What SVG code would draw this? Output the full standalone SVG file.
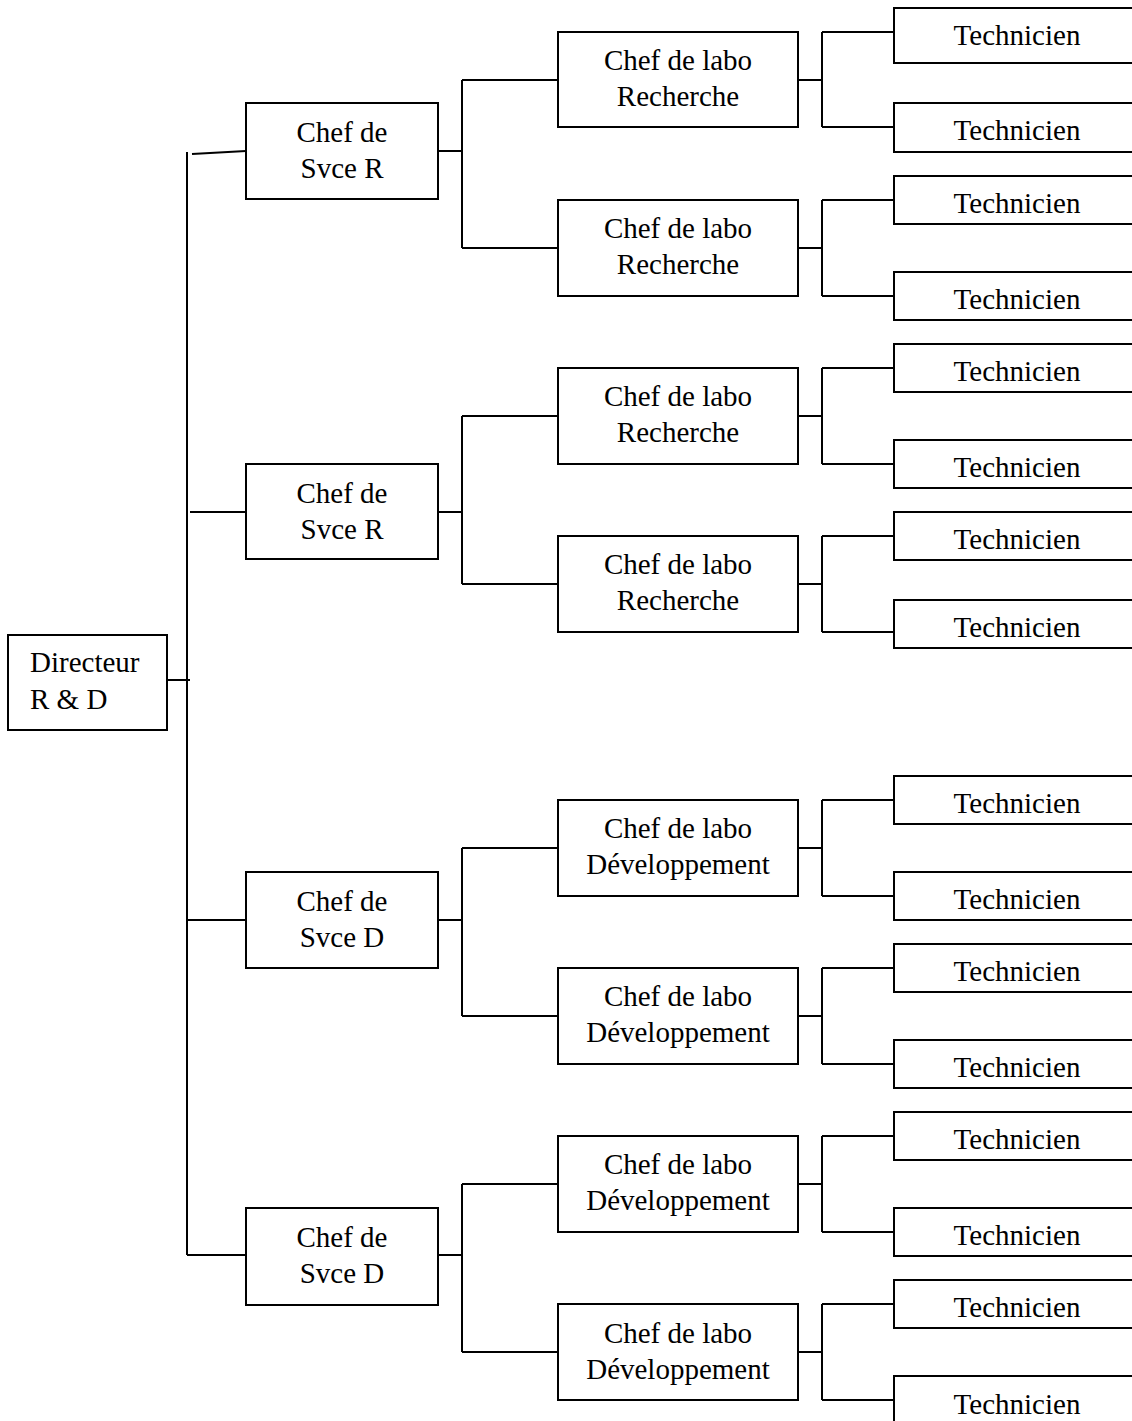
<svg xmlns="http://www.w3.org/2000/svg" width="1132" height="1421" viewBox="0 0 1132 1421">
<style>
.box{fill:#fff;stroke:#000;stroke-width:2}
.open{fill:none;stroke:#000;stroke-width:2}
.ln{fill:none;stroke:#000;stroke-width:2}
text{font-family:"Liberation Serif","Times New Roman",serif;font-size:29px;fill:#000}
.c{text-anchor:middle}
</style>
<rect width="1132" height="1421" fill="#fff"/>
<g id="connectors">
<path class="ln" d="M187,152 V1255"/>
<path class="ln" d="M167,680 H190"/>
<path class="ln" d="M192,154 L246,151"/>
<path class="ln" d="M190,512 H246"/>
<path class="ln" d="M187,920 H246"/>
<path class="ln" d="M187,1255 H246"/>
<path class="ln" d="M438,151 H462 M462,80 V248 M462,80 H558 M462,248 H558"/>
<path class="ln" d="M438,512 H462 M462,416 V584 M462,416 H558 M462,584 H558"/>
<path class="ln" d="M438,920 H462 M462,848 V1016 M462,848 H558 M462,1016 H558"/>
<path class="ln" d="M438,1255 H462 M462,1184 V1352 M462,1184 H558 M462,1352 H558"/>
<path class="ln" d="M798,80 H822 M822,32 V127 M822,32 H894 M822,127 H894"/>
<path class="ln" d="M798,248 H822 M822,200 V296 M822,200 H894 M822,296 H894"/>
<path class="ln" d="M798,416 H822 M822,368 V464 M822,368 H894 M822,464 H894"/>
<path class="ln" d="M798,584 H822 M822,536 V632 M822,536 H894 M822,632 H894"/>
<path class="ln" d="M798,848 H822 M822,800 V896 M822,800 H894 M822,896 H894"/>
<path class="ln" d="M798,1016 H822 M822,968 V1064 M822,968 H894 M822,1064 H894"/>
<path class="ln" d="M798,1184 H822 M822,1136 V1232 M822,1136 H894 M822,1232 H894"/>
<path class="ln" d="M798,1352 H822 M822,1304 V1400 M822,1304 H894 M822,1400 H894"/>
</g>
<g id="directeur"><rect class="box" x="8" y="635" width="159" height="95"/><text x="30" y="672">Directeur</text><text x="30" y="709">R &amp; D</text></g>
<g id="svce-r-1"><rect class="box" x="246" y="103" width="192" height="96"/><text class="c" x="342" y="142">Chef de</text><text class="c" x="342" y="178">Svce R</text></g>
<g id="svce-r-2"><rect class="box" x="246" y="464" width="192" height="95"/><text class="c" x="342" y="503">Chef de</text><text class="c" x="342" y="539">Svce R</text></g>
<g id="svce-d-1"><rect class="box" x="246" y="872" width="192" height="96"/><text class="c" x="342" y="911">Chef de</text><text class="c" x="342" y="947">Svce D</text></g>
<g id="svce-d-2"><rect class="box" x="246" y="1208" width="192" height="97"/><text class="c" x="342" y="1247">Chef de</text><text class="c" x="342" y="1283">Svce D</text></g>
<g id="labo-r-1"><rect class="box" x="558" y="32" width="240" height="95"/><text class="c" x="678" y="70">Chef de labo</text><text class="c" x="678" y="106">Recherche</text></g>
<g id="labo-r-2"><rect class="box" x="558" y="200" width="240" height="96"/><text class="c" x="678" y="238">Chef de labo</text><text class="c" x="678" y="274">Recherche</text></g>
<g id="labo-r-3"><rect class="box" x="558" y="368" width="240" height="96"/><text class="c" x="678" y="406">Chef de labo</text><text class="c" x="678" y="442">Recherche</text></g>
<g id="labo-r-4"><rect class="box" x="558" y="536" width="240" height="96"/><text class="c" x="678" y="574">Chef de labo</text><text class="c" x="678" y="610">Recherche</text></g>
<g id="labo-d-1"><rect class="box" x="558" y="800" width="240" height="96"/><text class="c" x="678" y="838">Chef de labo</text><text class="c" x="678" y="874">Développement</text></g>
<g id="labo-d-2"><rect class="box" x="558" y="968" width="240" height="96"/><text class="c" x="678" y="1006">Chef de labo</text><text class="c" x="678" y="1042">Développement</text></g>
<g id="labo-d-3"><rect class="box" x="558" y="1136" width="240" height="96"/><text class="c" x="678" y="1174">Chef de labo</text><text class="c" x="678" y="1210">Développement</text></g>
<g id="labo-d-4"><rect class="box" x="558" y="1304" width="240" height="96"/><text class="c" x="678" y="1343">Chef de labo</text><text class="c" x="678" y="1379">Développement</text></g>
<g id="tech-1"><path class="open" d="M1133,8 H894 V63 H1133"/><text class="c" x="1017" y="45">Technicien</text></g>
<g id="tech-2"><path class="open" d="M1133,103 H894 V152 H1133"/><text class="c" x="1017" y="140">Technicien</text></g>
<g id="tech-3"><path class="open" d="M1133,176 H894 V224 H1133"/><text class="c" x="1017" y="213">Technicien</text></g>
<g id="tech-4"><path class="open" d="M1133,272 H894 V320 H1133"/><text class="c" x="1017" y="309">Technicien</text></g>
<g id="tech-5"><path class="open" d="M1133,344 H894 V392 H1133"/><text class="c" x="1017" y="381">Technicien</text></g>
<g id="tech-6"><path class="open" d="M1133,440 H894 V488 H1133"/><text class="c" x="1017" y="477">Technicien</text></g>
<g id="tech-7"><path class="open" d="M1133,512 H894 V560 H1133"/><text class="c" x="1017" y="549">Technicien</text></g>
<g id="tech-8"><path class="open" d="M1133,600 H894 V648 H1133"/><text class="c" x="1017" y="637">Technicien</text></g>
<g id="tech-9"><path class="open" d="M1133,776 H894 V824 H1133"/><text class="c" x="1017" y="813">Technicien</text></g>
<g id="tech-10"><path class="open" d="M1133,872 H894 V920 H1133"/><text class="c" x="1017" y="909">Technicien</text></g>
<g id="tech-11"><path class="open" d="M1133,944 H894 V992 H1133"/><text class="c" x="1017" y="981">Technicien</text></g>
<g id="tech-12"><path class="open" d="M1133,1040 H894 V1088 H1133"/><text class="c" x="1017" y="1077">Technicien</text></g>
<g id="tech-13"><path class="open" d="M1133,1112 H894 V1160 H1133"/><text class="c" x="1017" y="1149">Technicien</text></g>
<g id="tech-14"><path class="open" d="M1133,1208 H894 V1256 H1133"/><text class="c" x="1017" y="1245">Technicien</text></g>
<g id="tech-15"><path class="open" d="M1133,1280 H894 V1328 H1133"/><text class="c" x="1017" y="1317">Technicien</text></g>
<g id="tech-16"><path class="open" d="M1133,1376 H894 V1422"/><text class="c" x="1017" y="1414">Technicien</text></g>
</svg>
